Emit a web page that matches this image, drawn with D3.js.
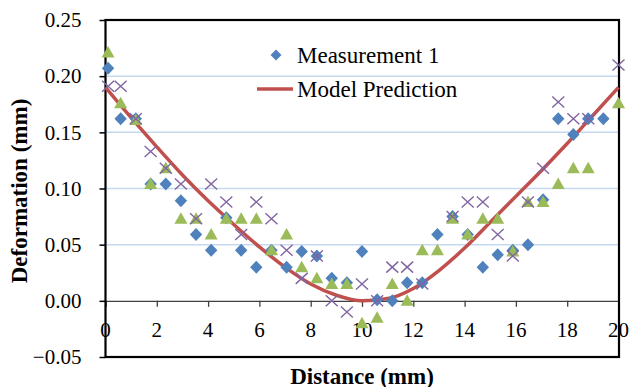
<!DOCTYPE html>
<html><head><meta charset="utf-8">
<script src="https://cdn.jsdelivr.net/npm/d3@7"></script>
<style>body{margin:0;background:#fff}svg{display:block}</style>
</head><body>
<svg id="c" width="630" height="387"></svg>
<script>
const distances = [0.1,0.59,1.18,1.76,2.35,2.94,3.53,4.12,4.71,5.29,5.88,6.47,7.06,7.65,8.24,8.82,9.41,10.0,10.59,11.18,11.76,12.35,12.94,13.53,14.12,14.71,15.29,15.88,16.47,17.06,17.65,18.24,18.82,19.41,20.0];
const measurement1 = [0.207,0.162,0.162,0.104,0.104,0.089,0.059,0.045,0.074,0.045,0.030,0.045,0.030,0.044,0.040,0.020,0.016,0.044,0.001,0.000,0.016,0.016,0.059,0.075,0.059,0.030,0.041,0.045,0.050,0.090,0.162,0.148,0.162,0.162,null];
const measurement2 = [0.221,0.176,0.161,0.104,0.118,0.073,0.073,0.059,0.073,0.073,0.073,0.045,0.059,0.030,0.020,0.015,0.015,-0.020,-0.015,0.015,0.000,0.045,0.045,0.073,0.059,0.073,0.073,0.044,0.088,0.088,0.104,0.118,0.118,null,0.176];
const measurement3 = [0.191,0.191,0.162,0.133,0.118,0.104,0.073,0.104,0.088,0.059,0.088,0.073,0.045,0.020,0.040,0.000,-0.010,0.015,0.000,0.030,0.030,0.015,null,0.075,0.088,0.088,0.059,0.040,0.088,0.118,0.177,0.162,0.162,null,0.210];
const modelX = [0,1,2,3,4,5,6,7,8,9,10,11,12,13,14,15,16,17,18,19,20];
const modelY = [0.190,0.163,0.137,0.112,0.089,0.068,0.048,0.030,0.015,0.005,0.000,0.002,0.011,0.027,0.047,0.070,0.093,0.116,0.140,0.165,0.190];
const xTicks = [0,2,4,6,8,10,12,14,16,18,20];
const yTicks = [-0.05,0,0.05,0.10,0.15,0.20,0.25];
const legendLabels = ["Measurement 1","Model Prediction"];

const svg = d3.select("#c");
const L=105.5, R=619, T=20, B=357;
const x = d3.scaleLinear().domain([0,20]).range([L,R-0.5]);
const y = d3.scaleLinear().domain([-0.05,0.25]).range([B,T]);
const serif = "'Liberation Serif','Times New Roman',serif";

// gridlines
svg.append("g").selectAll("line").data(yTicks.filter(v=>v>0.01 && v<0.24)).join("line")
  .attr("x1",L).attr("x2",R).attr("y1",d=>y(d)).attr("y2",d=>y(d))
  .attr("stroke","#c6d9f0").attr("stroke-width",1.5);

// x axis at zero
const xAxis = svg.append("g").attr("transform",`translate(0,${y(0)})`)
  .call(d3.axisBottom(x).tickValues(xTicks).tickSize(6).tickFormat(""));
xAxis.select(".domain").attr("stroke","#404040").attr("stroke-width",1.3);
xAxis.selectAll(".tick line").attr("stroke","#404040").attr("stroke-width",1.3);

// x tick labels
svg.append("g").selectAll("text").data(xTicks).join("text")
  .attr("x",d=>x(d)).attr("y",330).attr("text-anchor","middle").attr("dominant-baseline","central")
  .attr("font-family",serif).attr("font-size",21).attr("fill","#000").text(d=>d);

// y axis
const yAxis = svg.append("g").attr("transform",`translate(${L},0)`)
  .call(d3.axisLeft(y).tickValues(yTicks).tickSize(6).tickPadding(16).tickFormat(d3.format(".2f")));
yAxis.select(".domain").remove();
yAxis.selectAll(".tick line").attr("stroke","#000").attr("stroke-width",1.5);
yAxis.selectAll(".tick text").attr("font-family",serif).attr("font-size",21).attr("fill","#000")
  .attr("dx","-0.1em");

// plot border
svg.append("rect").attr("x",L).attr("y",T).attr("width",R-L).attr("height",B-T)
  .attr("fill","none").attr("stroke","#000").attr("stroke-width",2.2);

// model line
const line = d3.line().x((d,i)=>x(modelX[i])).y(d=>y(d)).curve(d3.curveMonotoneX);
svg.append("path").datum(modelY).attr("d",line).attr("fill","none")
  .attr("stroke","#c0504d").attr("stroke-width",3.5);

const diamond = "M0,-6.5L6.2,0L0,6.5L-6.2,0Z";
const tri = "M0,-6.5L6.5,5L-6.5,5Z";
const cross = "M-6,-5.5L6,5.5M-6,5.5L6,-5.5";

const pts = arr => arr.map((v,i)=>({x:distances[i],v})).filter(d=>d.v!==null);

svg.append("g").selectAll("path").data(pts(measurement1)).join("path")
  .attr("transform",d=>`translate(${x(d.x)},${y(d.v)})`).attr("d",diamond).attr("fill","#4f81bd");
svg.append("g").selectAll("path").data(pts(measurement2)).join("path")
  .attr("transform",d=>`translate(${x(d.x)},${y(d.v)})`).attr("d",tri).attr("fill","#9bbb59");
svg.append("g").selectAll("path").data(pts(measurement3)).join("path")
  .attr("transform",d=>`translate(${x(d.x)},${y(d.v)})`).attr("d",cross).attr("fill","none")
  .attr("stroke","#8064a2").attr("stroke-width",1.4);

// legend
const lg = svg.append("g");
lg.append("path").attr("transform","translate(276,55)").attr("d","M0,-5.5L5.5,0L0,5.5L-5.5,0Z").attr("fill","#4f81bd");
lg.append("line").attr("x1",257).attr("x2",293).attr("y1",89).attr("y2",89).attr("stroke","#c0504d").attr("stroke-width",3.5);
lg.selectAll("text").data(legendLabels).join("text")
  .attr("x",297).attr("y",(d,i)=>55+i*34).attr("dominant-baseline","central")
  .attr("font-family",serif).attr("font-size",23).attr("fill","#000").text(d=>d);

// axis titles
svg.append("text").attr("x",362).attr("y",376).attr("text-anchor","middle").attr("dominant-baseline","central")
  .attr("font-family",serif).attr("font-weight","bold").attr("font-size",23).text("Distance (mm)");
svg.append("text").attr("transform","translate(19,191) rotate(-90)").attr("text-anchor","middle").attr("dominant-baseline","central")
  .attr("font-family",serif).attr("font-weight","bold").attr("font-size",23).text("Deformation (mm)");
</script>
</body></html>
